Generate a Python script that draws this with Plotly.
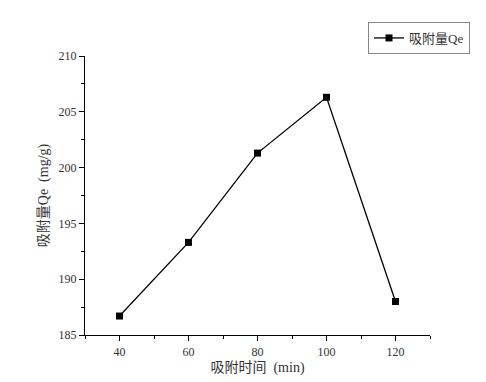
import plotly.graph_objects as go

time_min = [40, 60, 80, 100, 120]
qe = [186.7, 193.3, 201.3, 206.3, 188.0]
x_ticks = [40, 60, 80, 100, 120]
y_ticks = [185, 190, 195, 200, 205, 210]

font_fam = "Liberation Serif, Noto Sans CJK SC, serif"

fig = go.Figure()
fig.add_trace(go.Scatter(
    x=time_min, y=qe, mode="lines+markers", name="吸附量Qe",
    line=dict(color="#000000", width=1.3),
    marker=dict(symbol="square", size=7, color="#000000"),
))

axis_common = dict(
    showline=True, linecolor="#000000", linewidth=1.3,
    ticks="outside", ticklen=5, tickwidth=1.3, tickcolor="#000000",
    showgrid=False, zeroline=False, mirror=False, automargin=False,
    tickfont=dict(family=font_fam, size=12, color="#333333"),
)

# page body has an 8px default margin, so the figure is offset by 8px
fig.update_layout(
    width=486, height=382,
    margin=dict(l=77, r=64, t=48, b=55, autoexpand=False),
    paper_bgcolor="white", plot_bgcolor="white",
    font=dict(family=font_fam, color="#333333"),
    xaxis=dict(range=[30, 130], tickvals=x_ticks,
               minor=dict(ticks="outside", ticklen=3, tickwidth=1.3, tickcolor="#000000", dtick=10, tick0=30),
               title=dict(text="吸附时间  (min)", font=dict(size=14), standoff=4),
               **axis_common),
    yaxis=dict(range=[185, 210], tickvals=y_ticks,
               minor=dict(ticks="outside", ticklen=3, tickwidth=1.3, tickcolor="#000000", dtick=2.5, tick0=185),
               title=dict(text="吸附量Qe  (mg/g)", font=dict(size=14), standoff=6),
               **axis_common),
    showlegend=True,
    legend=dict(x=0.9506, y=0.9215, xref="container", yref="container",
                xanchor="right", yanchor="middle",
                bordercolor="#888888", borderwidth=1, bgcolor="white",
                font=dict(size=13, family=font_fam),
                itemwidth=30, tracegroupgap=0),
)

fig.write_html("out.html")
